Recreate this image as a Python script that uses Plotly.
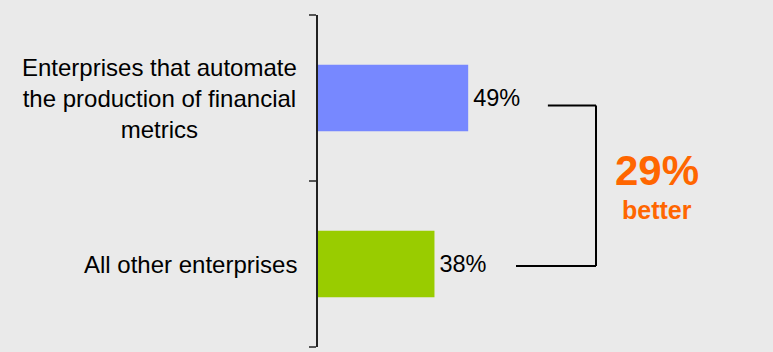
import plotly.graph_objects as go

# Survey result: share of enterprises, by group (bottom to top)
categories = ["All other enterprises",
              "Enterprises that automate<br>the production of financial<br>metrics"]
values = [38, 49]
bar_colors = ["#99cc00", "#7788ff"]
value_labels = [f"\u200a{v}%" for v in values]
gap_label = "29%"
gap_caption = "better"

BG = "#eaeaea"
FONT = "Liberation Sans, Arial, sans-serif"
ORANGE = "#ff6600"

fig = go.Figure()

fig.add_trace(go.Bar(
    orientation="h",
    y=categories,
    x=values,
    width=0.4,
    marker=dict(color=bar_colors, line=dict(width=0)),
    text=value_labels,
    textposition="outside",
    textfont=dict(family=FONT, size=23.5, color="#000000"),
    cliponaxis=False,
    hoverinfo="skip",
))

# Category labels, centred lines, right edge just left of the axis
for i, cat in enumerate(categories):
    fig.add_annotation(
        x=0, xref="paper", xanchor="right", xshift=-19,
        y=i, yref="y", yanchor="middle",
        text=cat, align="center", showarrow=False,
        font=dict(family=FONT, size=24, color="#000000"),
    )

# Bracket joining the two bar labels
x_vert = 90.7
y_top = 1 - 0.045
y_bot = -0.012
bracket = [
    (values[1] + 26, y_top, x_vert, y_top),
    (x_vert, y_top, x_vert, y_bot),
    (values[0] + 26.6, y_bot, x_vert, y_bot),
]
for x0, y0, x1, y1 in bracket:
    fig.add_shape(type="line", xref="x", yref="y",
                  x0=x0, y0=y0, x1=x1, y1=y1,
                  line=dict(color="#000000", width=2))

fig.add_annotation(x=110.6, xref="x", y=0.565, yref="y",
                   text=f"<b>{gap_label}</b>", showarrow=False,
                   xanchor="center", yanchor="middle",
                   font=dict(family=FONT, size=42, color=ORANGE))
fig.add_annotation(x=110.6, xref="x", y=0.325, yref="y",
                   text=f"<b>{gap_caption}</b>", showarrow=False,
                   xanchor="center", yanchor="middle",
                   font=dict(family=FONT, size=25, color=ORANGE))

fig.update_layout(
    width=773, height=352,
    margin=dict(l=318, r=0, t=15, b=5),
    paper_bgcolor=BG, plot_bgcolor=BG,
    showlegend=False,
    bargap=0.6,
    xaxis=dict(range=[0, 148.45], visible=False, fixedrange=True),
    yaxis=dict(
        type="category", categoryorder="array", categoryarray=categories,
        range=[-0.5, 1.5],
        showline=True, linecolor="#222222", linewidth=1.5,
        ticks="outside", tickson="boundaries", ticklen=7,
        tickcolor="#555555", tickwidth=1.5,
        showticklabels=False, showgrid=False, zeroline=False,
    ),
)

fig.write_html("out.html")
